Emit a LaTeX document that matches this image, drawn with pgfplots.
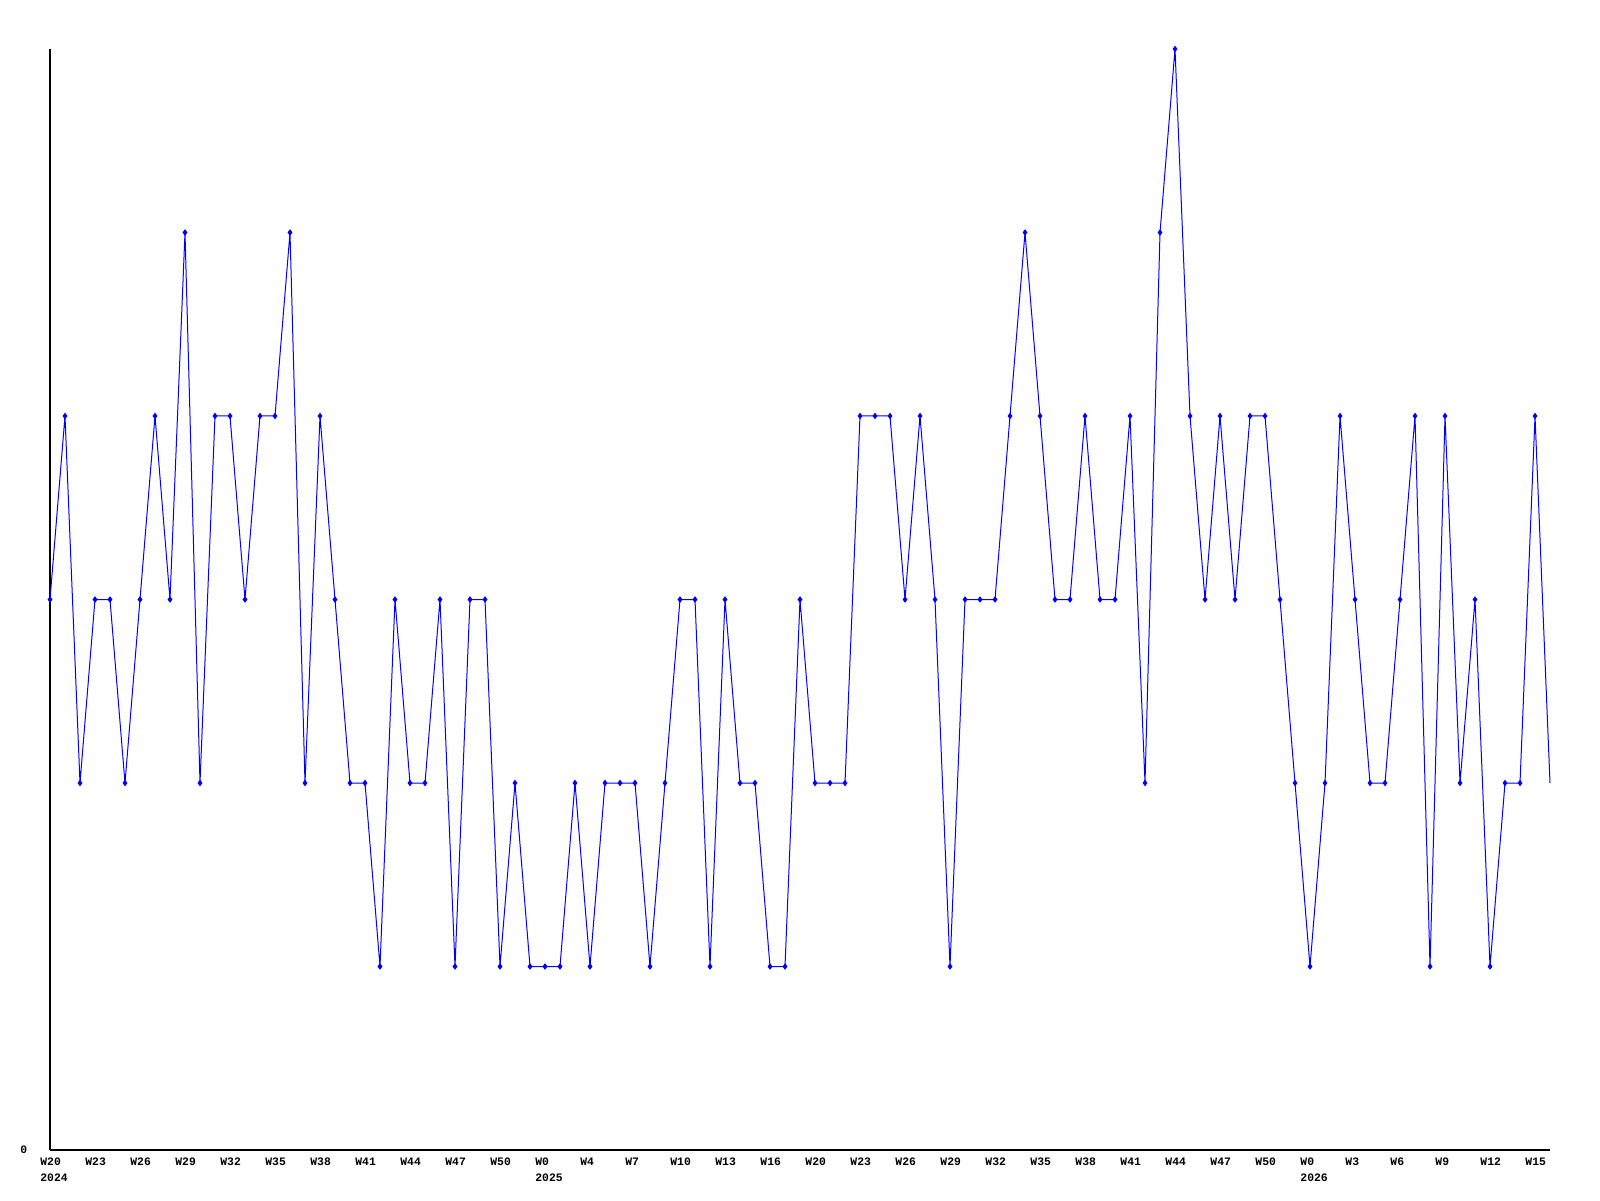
\documentclass[border=0pt]{standalone}
\usepackage{pgfplots}
\usepackage{pgfplotstable}
\pgfplotsset{compat=1.18}
\usepackage{fontspec}
\setmainfont{Liberation Mono}

\pgfplotstableread{
idx val
0 3
1 4
2 2
3 3
4 3
5 2
6 3
7 4
8 3
9 5
10 2
11 4
12 4
13 3
14 4
15 4
16 5
17 2
18 4
19 3
20 2
21 2
22 1
23 3
24 2
25 2
26 3
27 1
28 3
29 3
30 1
31 2
32 1
33 1
34 1
35 2
36 1
37 2
38 2
39 2
40 1
41 2
42 3
43 3
44 1
45 3
46 2
47 2
48 1
49 1
50 3
51 2
52 2
53 2
54 4
55 4
56 4
57 3
58 4
59 3
60 1
61 3
62 3
63 3
64 4
65 5
66 4
67 3
68 3
69 4
70 3
71 3
72 4
73 2
74 5
75 6
76 4
77 3
78 4
79 3
80 4
81 4
82 3
83 2
84 1
85 2
86 4
87 3
88 2
89 2
90 3
91 4
92 1
93 4
94 2
95 3
96 1
97 2
98 2
99 4
100 2
}\weekly

\begin{document}
\begin{tikzpicture}
\useasboundingbox (0,0) rectangle (800pt,600pt);
\begin{axis}[
  at={(25pt,25pt)}, anchor=south west,
  scale only axis, width=750pt, height=550.5pt,
  xmin=0, xmax=100, ymin=0, ymax=6,
  axis x line=bottom, axis y line=left,
  axis line style={-, black, line width=0.55pt},
  tick style={draw=none},
  ytick={0},
  xtick={0,3,...,99},
  xticklabels={{W20\\2024},W23,W26,W29,W32,W35,W38,W41,W44,W47,W50,{W0\\2025},W4,W7,W10,W13,W16,W20,W23,W26,W29,W32,W35,W38,W41,W44,W47,W50,{W0\\2026},W3,W6,W9,W12,W15},
  ticklabel style={font=\fontsize{5.7}{7.8}\selectfont\bfseries},
  xticklabel style={anchor=north west, align=left, inner sep=0pt, xshift=-5pt, yshift=-1.8pt},
  yticklabel style={anchor=east, inner sep=0pt, xshift=-9pt},
  /pgf/number format/assume math mode=true,
  clip=false,
]
\addplot[blue, line width=0.5pt, no marks] table[x=idx, y=val] {\weekly};
\addplot[blue, only marks, mark=diamond*, mark size=1.3pt, restrict x to domain=0:99] table[x=idx, y=val] {\weekly};
\end{axis}
\end{tikzpicture}
\end{document}
